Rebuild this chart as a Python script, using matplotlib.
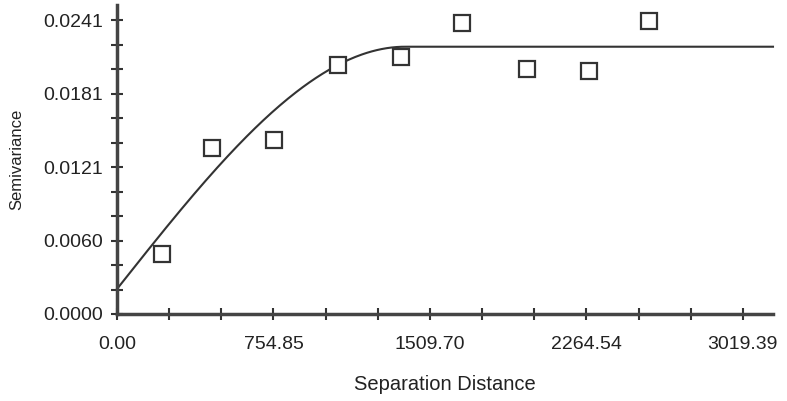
import matplotlib.pyplot as plt
import numpy as np

plt.rcParams['font.family'] = ['Liberation Sans', 'DejaVu Sans']

# empirical semivariogram points
lag_dist = [217, 458, 757, 1066, 1370, 1664, 1978, 2277, 2566]
semivar = [0.00492, 0.01361, 0.01426, 0.02041, 0.02107, 0.02385, 0.02008, 0.01992, 0.02402]

# fitted spherical model
nugget = 0.00205
sill = 0.02191
model_range = 1390.0

x_ticks = [0.0, 754.8475, 1509.695, 2264.5425, 3019.39]
x_labels = ['0.00', '754.85', '1509.70', '2264.54', '3019.39']
y_ticks = [0.0, 0.006025, 0.01205, 0.018075, 0.0241]
y_labels = ['0.0000', '0.0060', '0.0121', '0.0181', '0.0241']

xmax = 3165
ymax = 0.02533

fig = plt.figure(figsize=(7.87, 4.01), dpi=100)
ax = fig.add_axes([117 / 787, 1 - 314 / 401, (773 - 117) / 787, (314 - 5) / 401])

h = np.linspace(0, xmax, 400)
r = np.clip(h / model_range, 0, 1)
gamma = nugget + (sill - nugget) * (1.5 * r - 0.5 * r ** 3)
ax.plot(h, gamma, color='#333333', lw=1.5, clip_on=False, zorder=2)

ax.plot(lag_dist, semivar, ls='none', marker='s', markersize=11.5,
        markerfacecolor='white', markeredgecolor='#333333', markeredgewidth=1.6, zorder=3)

ax.set_xticks(x_ticks)
ax.set_xticklabels(x_labels)
ax.set_yticks(y_ticks)
ax.set_yticklabels(y_labels)
x_step = x_ticks[1] / 3
y_step = y_ticks[1] / 3
ax.set_xticks([t + x_step * k for t in x_ticks[:-1] for k in (1, 2)], minor=True)
ax.set_yticks([t + y_step * k for t in y_ticks[:-1] for k in (1, 2)], minor=True)
ax.set_xlim(0, xmax)
ax.set_ylim(0, ymax)

for s in ['top', 'right']:
    ax.spines[s].set_visible(False)
for s in ['left', 'bottom']:
    ax.spines[s].set_linewidth(2.5)
    ax.spines[s].set_color('#444444')

ax.tick_params(which='both', direction='inout', length=8, width=1.5, color='#333333')
ax.tick_params(axis='y', which='major', labelsize=14, labelcolor='#222222', pad=6)
ax.tick_params(axis='x', which='major', labelsize=14, labelcolor='#222222', pad=12)

ax.set_xlabel('Separation Distance', fontsize=14.5, color='#222222', labelpad=16)
ax.set_ylabel('Semivariance', fontsize=12, color='#222222', labelpad=14)

fig.savefig('out.png', dpi=100)
